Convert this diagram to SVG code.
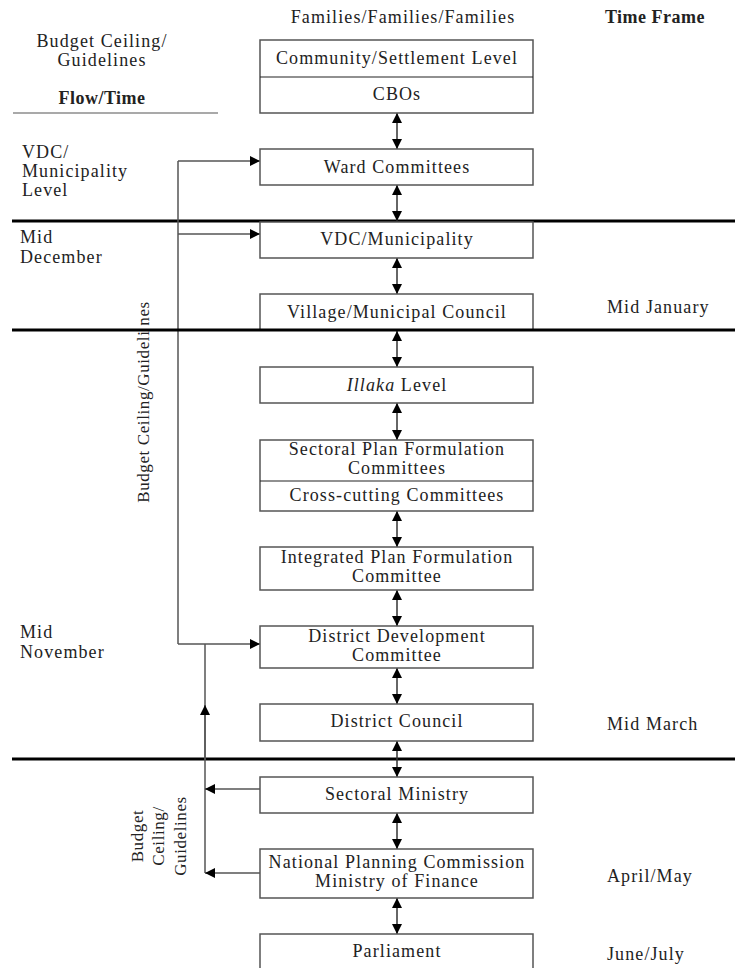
<svg xmlns="http://www.w3.org/2000/svg" width="735" height="968" viewBox="0 0 735 968">
<defs>
<marker id="ah" viewBox="0 0 10 10" refX="10" refY="5" markerWidth="10" markerHeight="11" markerUnits="userSpaceOnUse" orient="auto-start-reverse">
<path d="M0,0 L10,5 L0,10 Z" fill="#000"/>
</marker>
</defs>
<style>
text{font-family:"Liberation Serif","DejaVu Serif",serif;font-size:18px;letter-spacing:1.1px;fill:#222}
.c{text-anchor:middle}
.b{font-weight:bold;letter-spacing:0.5px}
.v{font-size:17px;letter-spacing:0.6px}
.box{fill:#fff;stroke:#555;stroke-width:1.5}
.div{stroke:#222;stroke-width:1.2}
.thick{stroke:#000;stroke-width:3}
.con{stroke:#555;stroke-width:1.5;fill:none}
.dbl{stroke:#333;stroke-width:1.5;marker-start:url(#ah);marker-end:url(#ah)}
.arr{stroke:#555;stroke-width:1.5;fill:none;marker-end:url(#ah)}
</style>
<rect width="735" height="968" fill="#fff"/>

<g id="headers">
<text class="c" x="102" y="47">Budget Ceiling/</text>
<text class="c" x="102" y="66">Guidelines</text>
<text class="c b" x="102" y="104">Flow/Time</text>
<line x1="13" y1="113" x2="218" y2="113" stroke="#555" stroke-width="1.2"/>
<text class="c" x="403" y="23">Families/Families/Families</text>
<text class="c b" x="655" y="23">Time Frame</text>
</g>

<g id="side-labels">
<text x="22" y="158">VDC/</text>
<text x="22" y="177">Municipality</text>
<text x="22" y="196">Level</text>
<text x="20" y="243">Mid</text>
<text x="20" y="263">December</text>
<text x="20" y="638">Mid</text>
<text x="20" y="658">November</text>
<text x="607" y="313">Mid January</text>
<text x="607" y="730">Mid March</text>
<text x="607" y="882">April/May</text>
<text x="607" y="960">June/July</text>
<text class="c v" transform="translate(149,402) rotate(-90)">Budget Ceiling/Guideli nes</text>
<text class="c v" transform="translate(143,836) rotate(-90)">Budget</text>
<text class="c v" transform="translate(164,836) rotate(-90)">Ceiling/</text>
<text class="c v" transform="translate(186,836) rotate(-90)">Guidelines</text>
</g>

<g id="dividers">
<line class="thick" x1="12" y1="221" x2="735" y2="221"/>
<line class="thick" x1="12" y1="759" x2="735" y2="759"/>
</g>

<g id="connectors">
<polyline class="con" points="178,161 178,644"/>
<line class="arr" x1="178" y1="161" x2="260" y2="161"/>
<line class="arr" x1="178" y1="234" x2="260" y2="234"/>
<line class="arr" x1="178" y1="644" x2="260" y2="644"/>
<line class="con" x1="205" y1="644" x2="205" y2="873"/>
<line class="arr" x1="205" y1="760" x2="205" y2="705"/>
<line class="arr" x1="260" y1="789" x2="205" y2="789"/>
<line class="arr" x1="260" y1="873" x2="205" y2="873"/>
<line class="dbl" x1="397" y1="113" x2="397" y2="149"/>
<line class="dbl" x1="397" y1="185" x2="397" y2="221"/>
<line class="dbl" x1="397" y1="258" x2="397" y2="294"/>
<line class="dbl" x1="397" y1="331" x2="397" y2="367"/>
<line class="dbl" x1="397" y1="403" x2="397" y2="440"/>
<line class="dbl" x1="397" y1="511" x2="397" y2="547"/>
<line class="dbl" x1="397" y1="590" x2="397" y2="626"/>
<line class="dbl" x1="397" y1="668" x2="397" y2="704"/>
<line class="dbl" x1="397" y1="741" x2="397" y2="777"/>
<line class="dbl" x1="397" y1="813" x2="397" y2="849"/>
<line class="dbl" x1="397" y1="898" x2="397" y2="934"/>
</g>

<g id="community">
<rect class="box" x="260" y="40" width="273" height="73"/>
<line class="div" x1="260" y1="77" x2="533" y2="77"/>
<text class="c" x="397" y="64">Community/Settlement Level</text>
<text class="c" x="397" y="100">CBOs</text>
</g>
<g id="ward">
<rect class="box" x="260" y="149" width="273" height="36"/>
<text class="c" x="397" y="173">Ward Committees</text>
</g>
<g id="vdc">
<rect class="box" x="260" y="222" width="273" height="36"/>
<text class="c" x="397" y="245">VDC/Municipality</text>
</g>
<g id="village">
<rect class="box" x="260" y="294" width="273" height="36"/>
<text class="c" x="397" y="318">Village/Municipal Council</text>
</g>
<line class="thick" x1="12" y1="330" x2="735" y2="330"/>
<g id="illaka">
<rect class="box" x="260" y="367" width="273" height="36"/>
<text class="c" x="397" y="391"><tspan font-style="italic">Illaka</tspan> Level</text>
</g>
<g id="sectoral-plan">
<rect class="box" x="260" y="440" width="273" height="71"/>
<line class="div" x1="260" y1="481" x2="533" y2="481"/>
<text class="c" x="397" y="455">Sectoral Plan Formulation</text>
<text class="c" x="397" y="474">Committees</text>
<text class="c" x="397" y="501">Cross-cutting Committees</text>
</g>
<g id="integrated">
<rect class="box" x="260" y="547" width="273" height="43"/>
<text class="c" x="397" y="563">Integrated Plan Formulation</text>
<text class="c" x="397" y="582">Committee</text>
</g>
<g id="ddc">
<rect class="box" x="260" y="626" width="273" height="42"/>
<text class="c" x="397" y="642">District Development</text>
<text class="c" x="397" y="661">Committee</text>
</g>
<g id="district-council">
<rect class="box" x="260" y="704" width="273" height="37"/>
<text class="c" x="397" y="727">District Council</text>
</g>
<g id="sectoral-ministry">
<rect class="box" x="260" y="777" width="273" height="36"/>
<text class="c" x="397" y="800">Sectoral Ministry</text>
</g>
<g id="npc">
<rect class="box" x="260" y="849" width="273" height="49"/>
<text class="c" x="397" y="868">National Planning Commission</text>
<text class="c" x="397" y="887">Ministry of Finance</text>
</g>
<g id="parliament">
<rect class="box" x="260" y="934" width="273" height="40"/>
<text class="c" x="397" y="957">Parliament</text>
</g>
</svg>
